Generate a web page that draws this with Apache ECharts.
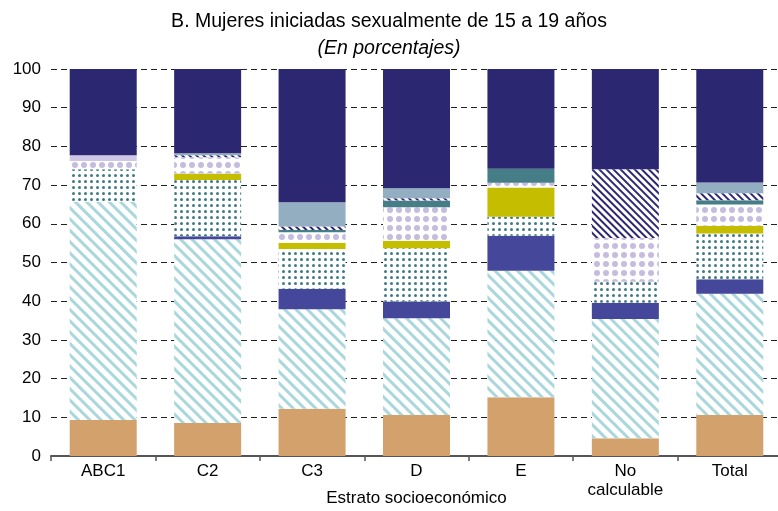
<!DOCTYPE html>
<html><head><meta charset="utf-8">
<script src="https://cdn.jsdelivr.net/npm/echarts@6/dist/echarts.min.js"></script>
<style>html,body{margin:0;padding:0;background:#fff}#c{width:778px;height:511px}</style>
</head><body><div id="c"></div>
<script>
var categories = ['ABC1','C2','C3','D','E','No\ncalculable','Total'];
var yTicks = [0,10,20,30,40,50,60,70,80,90,100];
var sTan        = [9.3, 8.5, 12.2, 10.6, 15.2, 4.6, 10.6];
var sLightHatch = [56.4, 47.5, 25.7, 25.0, 32.7, 30.8, 31.3];
var sBlue       = [0, 0.8, 5.3, 4.3, 9.0, 4.2, 3.8];
var sTealDots   = [8.4, 14.5, 10.3, 13.8, 4.9, 5.4, 11.8];
var sOlive      = [0, 1.7, 1.6, 1.9, 7.6, 0, 2.0];
var sLavDots    = [2.1, 4.2, 2.7, 8.7, 1.2, 11.3, 5.5];
var sTeal       = [0, 0, 0.6, 1.7, 3.6, 0, 1.1];
var sNavyHatch  = [0, 0.5, 0.9, 0.6, 0, 17.8, 1.8];
var sGrayBlue   = [0, 0.5, 6.3, 2.6, 0, 0, 2.8];
var sLavender   = [1.5, 0, 0, 0, 0, 0, 0];
var sNavy       = [22.3, 21.8, 34.4, 30.8, 25.8, 25.9, 29.3];

var FONT = 'Liberation Sans, Arial, sans-serif';
function mk(name, data, color, decal) {
  var it = {color: color};
  if (decal) it.decal = decal;
  return {name: name, type: 'bar', stack: 'a', data: data, barWidth: 67, itemStyle: it};
}
var hatchLight = {symbol:'rect', symbolSize:1, color:'#A9D7DB', dashArrayX:[1,0], dashArrayY:[3,5], rotation:Math.PI/4};
var hatchNavy  = {symbol:'rect', symbolSize:1, color:'#2D2872', dashArrayX:[1,0], dashArrayY:[2,3], rotation:Math.PI/4};
var dotsTeal   = {symbol:'circle', symbolSize:1, color:'#3F7A83', dashArrayX:[3,3], dashArrayY:[3,3], rotation:0};
var dotsLav    = {symbol:'circle', symbolSize:1, color:'#C5BCE0', dashArrayX:[6,3], dashArrayY:[6,3], rotation:0};

var chart = echarts.init(document.getElementById('c'), null, {renderer:'canvas'});
chart.setOption({
  animation: false,
  title: [
    {text: 'B. Mujeres iniciadas sexualmente de 15 a 19 años', left: 'center', top: 7,
     textStyle: {fontFamily: FONT, fontSize: 19.5, fontWeight: 'normal', color: '#000'}},
    {text: '(En porcentajes)', left: 'center', top: 34,
     textStyle: {fontFamily: FONT, fontSize: 19.5, fontWeight: 'normal', fontStyle: 'italic', color: '#000'}}
  ],
  grid: {left: 51, right: -4, top: 69, bottom: 55, outerBoundsMode: 'none', containLabel: false},
  xAxis: {
    type: 'category', data: categories,
    name: 'Estrato socioeconómico', nameLocation: 'middle', nameGap: 34, nameMoveOverlap: false,
    nameTextStyle: {fontFamily: FONT, fontSize: 17, color: '#000', verticalAlign: 'top'},
    axisLine: {lineStyle: {color: '#555', width: 2}},
    axisTick: {show: true, length: 5, lineStyle: {color: '#555', width: 1.5}},
    axisLabel: {fontFamily: FONT, fontSize: 17, color: '#000', margin: 6, lineHeight: 19}
  },
  yAxis: {
    type: 'value', min: yTicks[0], max: yTicks[yTicks.length-1], interval: 10,
    axisLine: {show: false},
    axisTick: {show: false},
    axisLabel: {fontFamily: FONT, fontSize: 17, color: '#000', margin: 10},
    splitLine: {show: true, lineStyle: {color: '#222', width: 1, type: [6, 4]}}
  },
  series: [
    mk('s1', sTan, '#D3A16B'),
    mk('s2', sLightHatch, '#ffffff', hatchLight),
    mk('s3', sBlue, '#45479A'),
    mk('s4', sTealDots, '#ffffff', dotsTeal),
    mk('s5', sOlive, '#C5BD00'),
    mk('s6', sLavDots, '#ffffff', dotsLav),
    mk('s7', sTeal, '#457E87'),
    mk('s8', sNavyHatch, '#ffffff', hatchNavy),
    mk('s9', sGrayBlue, '#93AEC0'),
    mk('s10', sLavender, '#CEC7E5'),
    mk('s11', sNavy, '#2C2771')
  ]
});
</script></body></html>
